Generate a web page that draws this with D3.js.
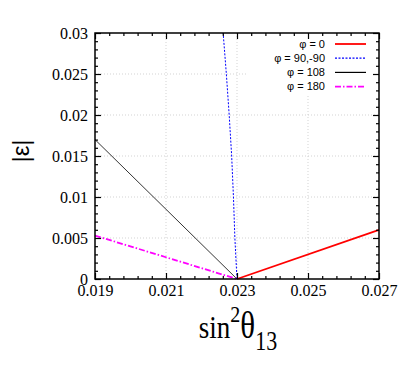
<!DOCTYPE html>
<html><head><meta charset="utf-8">
<script src="https://cdn.jsdelivr.net/npm/d3@7"></script>
<style>body{margin:0;background:#fff}svg{display:block}</style>
</head><body>
<script>
// ---- data ----
const xTicks = [0.019, 0.021, 0.023, 0.025, 0.027];
const xTickLabels = ["0.019", "0.021", "0.023", "0.025", "0.027"];
const yTicks = [0, 0.005, 0.01, 0.015, 0.02, 0.025, 0.03];
const yTickLabels = ["0", "0.005", "0.01", "0.015", "0.02", "0.025", "0.03"];
const seriesNames = ["\u03c6 = 0", "\u03c6 = 90,-90", "\u03c6 = 108", "\u03c6 = 180"];
const phi0X = [0.023, 0.027];
const phi0Y = [0, 0.006];
const phi90X = [0.0230, 0.02294, 0.02290, 0.02285, 0.02278, 0.02270, 0.02261];
const phi90Y = [0, 0.005, 0.01, 0.015, 0.02, 0.025, 0.03];
const phi108X = [0.019, 0.023];
const phi108Y = [0.0170, 0];
const phi180X = [0.019, 0.023];
const phi180Y = [0.0053, 0];

const W = 407, H = 370;
const L = 95, R = 379, T = 33, B = 279;
const svg = d3.select("body").append("svg").attr("width", W).attr("height", H);
const x = d3.scaleLinear().domain([0.019, 0.027]).range([L, R]);
const y = d3.scaleLinear().domain([0, 0.03]).range([B, T]);

const serif = "Liberation Serif, Times New Roman, serif";
const sans = "Liberation Sans, Arial, sans-serif";

// grid
const grid = svg.append("g").attr("stroke", "#c8c8c8").attr("stroke-width", 0.8).attr("stroke-dasharray", "1,2");
xTicks.slice(1, -1).forEach(v => grid.append("line").attr("x1", x(v)).attr("x2", x(v)).attr("y1", T).attr("y2", B));
yTicks.slice(1, -1).forEach(v => grid.append("line").attr("y1", y(v)).attr("y2", y(v)).attr("x1", L).attr("x2", R));

// legend background
svg.append("rect").attr("x", 247).attr("y", T + 1).attr("width", R - 247 - 1).attr("height", 93 - T).attr("fill", "#fff");

const styles = [
  {c: "#ff0000", w: 1.8, d: null},
  {c: "#0000ff", w: 1, d: "2,1.5"},
  {c: "#000000", w: 0.8, d: null},
  {c: "#ff00ff", w: 1.8, d: "6,2,1.5,2"}
];
const seriesX = [phi0X, phi90X, phi108X, phi180X];
const seriesY = [phi0Y, phi90Y, phi108Y, phi180Y];
const line = d3.line().x(d => x(d[0])).y(d => y(d[1]));
const plot = svg.append("g");
const order = [2, 3, 1, 0];
order.forEach(i => {
  const pts = seriesX[i].map((v, j) => [v, seriesY[i][j]]);
  const p = plot.append("path").attr("d", line(pts)).attr("fill", "none")
    .attr("stroke", styles[i].c).attr("stroke-width", styles[i].w);
  if (styles[i].d) p.attr("stroke-dasharray", styles[i].d);
});

// legend
const lg = svg.append("g");
seriesNames.forEach((n, i) => {
  const yy = 44 + i * 14.2;
  lg.append("text").attr("x", 325).attr("y", yy).attr("dy", "0.35em").attr("text-anchor", "end")
    .style("font-family", sans).style("font-size", "11px").text(n);
  const l = lg.append("line").attr("x1", 335).attr("x2", 366).attr("y1", yy).attr("y2", yy)
    .attr("stroke", styles[i].c).attr("stroke-width", Math.max(styles[i].w, 1.2));
  if (styles[i].d) l.attr("stroke-dasharray", styles[i].d);
});

// axes
const xMinor = d3.range(0, 21).map(k => 0.019 + k * 0.0004).filter(v => xTicks.every(t => Math.abs(t - v) > 1e-9));
const yMinor = d3.range(0, 31).map(k => k * 0.001).filter(v => yTicks.every(t => Math.abs(t - v) > 1e-9));
function styleAxis(g) {
  g.select(".domain").remove();
  g.attr("font-family", serif).attr("font-size", 16);
  g.selectAll(".tick line").attr("stroke", "#000").attr("stroke-width", 1.2);
  g.selectAll("text").style("font-family", serif).style("font-size", "16px").attr("fill", "#000");
}
svg.append("g").attr("transform", `translate(0,${B})`)
  .call(d3.axisBottom(x).tickValues(xTicks).tickFormat((d, i) => xTickLabels[i]).tickSizeInner(-6).tickSizeOuter(0).tickPadding(6))
  .call(styleAxis);
svg.append("g").attr("transform", `translate(0,${B})`)
  .call(d3.axisBottom(x).tickValues(xMinor).tickFormat("").tickSizeInner(-3).tickSizeOuter(0)).call(styleAxis);
svg.append("g").attr("transform", `translate(0,${T})`)
  .call(d3.axisTop(x).tickValues(xTicks).tickFormat("").tickSizeInner(-6).tickSizeOuter(0)).call(styleAxis);
svg.append("g").attr("transform", `translate(0,${T})`)
  .call(d3.axisTop(x).tickValues(xMinor).tickFormat("").tickSizeInner(-3).tickSizeOuter(0)).call(styleAxis);
svg.append("g").attr("transform", `translate(${L},0)`)
  .call(d3.axisLeft(y).tickValues(yTicks).tickFormat((d, i) => yTickLabels[i]).tickSizeInner(-6).tickSizeOuter(0).tickPadding(7))
  .call(styleAxis);
svg.append("g").attr("transform", `translate(${L},0)`)
  .call(d3.axisLeft(y).tickValues(yMinor).tickFormat("").tickSizeInner(-3).tickSizeOuter(0)).call(styleAxis);
svg.append("g").attr("transform", `translate(${R},0)`)
  .call(d3.axisRight(y).tickValues(yTicks).tickFormat("").tickSizeInner(-6).tickSizeOuter(0)).call(styleAxis);
svg.append("g").attr("transform", `translate(${R},0)`)
  .call(d3.axisRight(y).tickValues(yMinor).tickFormat("").tickSizeInner(-3).tickSizeOuter(0)).call(styleAxis);

// frame
svg.append("rect").attr("x", L).attr("y", T).attr("width", R - L).attr("height", B - T)
  .attr("fill", "none").attr("stroke", "#000").attr("stroke-width", 1.5);

// axis titles
const xt = svg.append("text").attr("transform", "translate(238,338) scale(1,1.2)").attr("text-anchor", "middle")
  .style("font-family", serif).style("font-size", "27px").attr("fill", "#000");
xt.append("tspan").text("sin");
xt.append("tspan").style("font-size", "20px").attr("dy", -13).text("2");
xt.append("tspan").style("font-size", "31px").attr("dy", 13).text("\u03b8");
xt.append("tspan").style("font-size", "22px").attr("dy", 10).text("13");

svg.append("text").attr("transform", "translate(29,151) rotate(-90)").attr("text-anchor", "middle")
  .style("font-family", sans).style("font-size", "24px").attr("fill", "#000").text("|\u03b5|");
</script>
</body></html>
